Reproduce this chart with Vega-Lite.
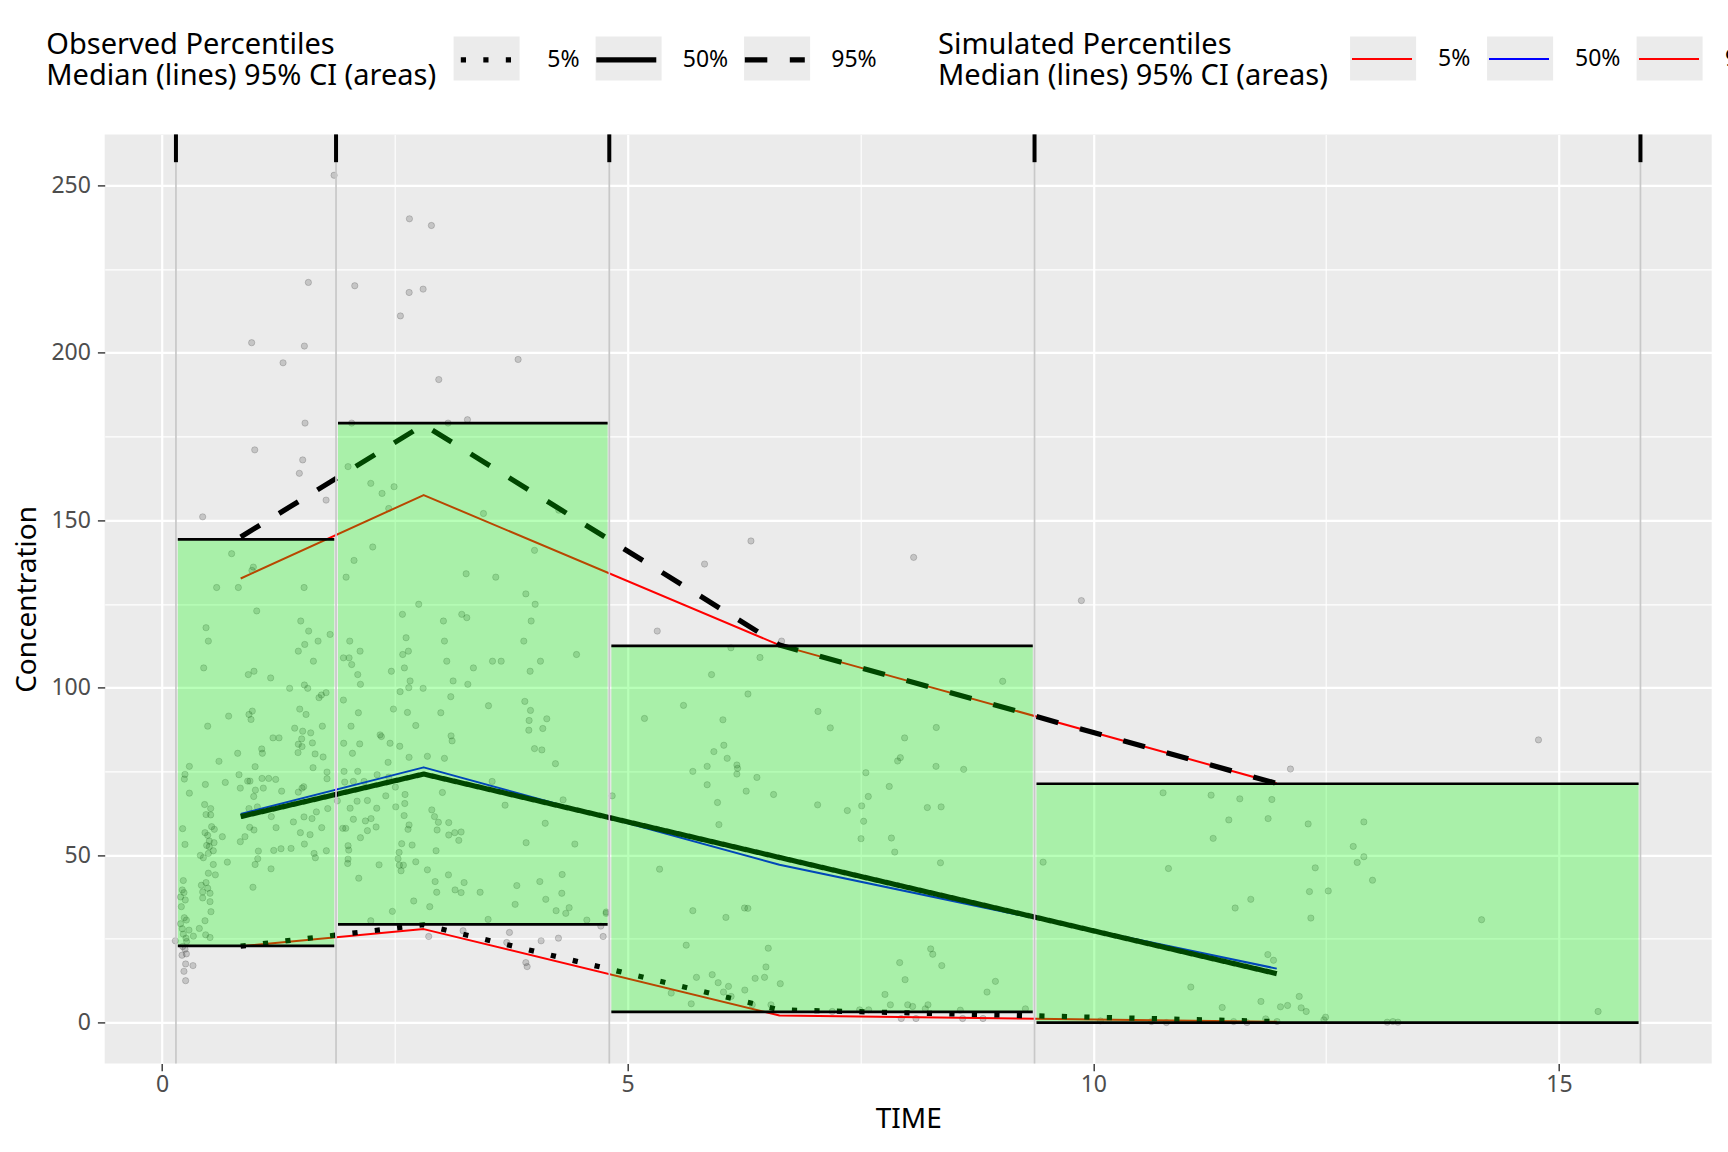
{
"$schema":"https://vega.github.io/schema/vega-lite/v6.json",
"width":1607,"height":929,
"autosize":{"type":"none"},
"padding":{"left":104.7,"top":134.4,"right":16.3,"bottom":88.6},
"background":"white",
"view":{"fill":"#EBEBEB","stroke":null},
"config":{"font":"Noto Sans","view":{"fill":"#EBEBEB","stroke":null}},
"datasets":{
"pts":[
{"t":1.848,"c":253},{"t":2.657,"c":240},{"t":2.893,"c":238},{"t":1.572,"c":221},{"t":2.07,"c":220},{"t":2.654,"c":218},{"t":2.804,"c":219},{"t":2.56,"c":211},{"t":0.963,"c":203},{"t":1.529,"c":202},{"t":1.3,"c":197},{"t":3.824,"c":198},{"t":2.972,"c":192},{"t":1.536,"c":179},{"t":2.037,"c":179},{"t":3.072,"c":179},{"t":3.28,"c":180},{"t":0.996,"c":171},{"t":1.511,"c":168},{"t":1.475,"c":164},{"t":1.998,"c":166},{"t":1.762,"c":156},{"t":2.242,"c":161},{"t":2.363,"c":158},{"t":2.492,"c":160},{"t":2.435,"c":153.5},{"t":3.452,"c":152},{"t":4.261,"c":153},{"t":0.437,"c":151},{"t":0.748,"c":140},{"t":0.981,"c":136},{"t":0.966,"c":135},{"t":2.263,"c":142},{"t":2.062,"c":138},{"t":4.0,"c":141},{"t":1.977,"c":133},{"t":3.266,"c":134},{"t":3.584,"c":133},{"t":0.587,"c":129.9},{"t":0.82,"c":129.9},{"t":1.526,"c":129.9},
{"t":1.017,"c":122.9},{"t":2.757,"c":124.9},{"t":3.907,"c":128},{"t":4.007,"c":124.9},{"t":2.582,"c":121.9},{"t":3.022,"c":119.9},{"t":3.219,"c":121.9},{"t":3.273,"c":120.9},{"t":3.964,"c":119.9},{"t":1.49,"c":119.9},{"t":0.473,"c":117.9},{"t":1.575,"c":116.9},{"t":0.498,"c":113.9},{"t":1.676,"c":113.9},{"t":1.805,"c":115.9},{"t":1.533,"c":112.9},{"t":1.464,"c":110.9},{"t":2.016,"c":113.9},{"t":2.621,"c":114.9},{"t":3.033,"c":113.9},{"t":3.885,"c":113.9},{"t":2.127,"c":110.9},{"t":2.646,"c":110.9},{"t":2.585,"c":109.9},{"t":4.451,"c":109.9},{"t":1.626,"c":107.9},{"t":1.948,"c":108.9},{"t":2.009,"c":108.9},{"t":2.037,"c":106.9},{"t":3.058,"c":107.9},{"t":3.549,"c":107.9},{"t":3.642,"c":107.9},{"t":4.064,"c":107.9},{"t":0.448,"c":105.9},{"t":2.603,"c":105.9},{"t":3.344,"c":105.9},{"t":2.463,"c":104.9},{"t":3.953,"c":104.9},{"t":0.927,"c":103.9},{"t":0.988,"c":104.9},{"t":1.167,"c":102.9},{"t":2.102,"c":103.9},{"t":2.664,"c":102},{"t":3.126,"c":102},{"t":2.131,"c":101},{"t":3.284,"c":101},{"t":1.371,"c":99.8},{"t":1.529,"c":100.8},{"t":1.565,"c":99.8},{"t":2.557,"c":98.8},{"t":2.65,"c":100},{"t":2.804,"c":99.8},{"t":3.101,"c":97.3},{"t":1.686,"c":97},{"t":1.762,"c":98.5},{"t":1.712,"c":97.8},{"t":1.948,"c":96.3},{"t":3.506,"c":94.6},{"t":3.896,"c":95.9},{"t":3.957,"c":93.2},{"t":0.97,"c":93},{"t":0.934,"c":92},{"t":1.479,"c":93.6},{"t":1.547,"c":92},{"t":2.109,"c":92.5},{"t":2.485,"c":93.6},{"t":2.636,"c":92.6},{"t":2.994,"c":92.5},{"t":4.132,"c":90.7},{"t":3.942,"c":90.2},{"t":0.956,"c":90.5},{"t":0.716,"c":91.5},{"t":0.491,"c":88.5},{"t":2.725,"c":88.7},{"t":1.425,"c":87.9},{"t":1.511,"c":87},{"t":1.597,"c":86.5},{"t":1.722,"c":88.5},{"t":3.939,"c":87.3},{"t":4.089,"c":87.8},{"t":2.03,"c":88.5},{"t":2.342,"c":85.9},{"t":2.356,"c":85.4},{"t":3.104,"c":85.6},{"t":3.115,"c":84.1},{"t":1.192,"c":85},{"t":1.257,"c":85},{"t":1.5,"c":84.7},{"t":1.464,"c":83.1},{"t":1.504,"c":82.4},{"t":1.461,"c":80.6},{"t":1.615,"c":83.5},{"t":1.951,"c":83.4},{"t":2.123,"c":83.2},{"t":2.449,"c":83.4},{"t":2.553,"c":82.5},{"t":4.0,"c":81.8},{"t":4.079,"c":81.4},{"t":1.071,"c":81.7},{"t":1.078,"c":80.4},{"t":0.813,"c":80.4},{"t":1.644,"c":80.2},{"t":1.73,"c":79.3},{"t":2.045,"c":80.4},{"t":2.653,"c":79.2},{"t":2.85,"c":79.5},{"t":3.033,"c":78.9},{"t":0.612,"c":78},{"t":0.294,"c":76.5},{"t":1.0,"c":76.4},{"t":1.622,"c":76.1},{"t":4.225,"c":77.3},{"t":2.428,"c":77.7},{"t":1.772,"c":74.8},{"t":1.955,"c":75},{"t":2.102,"c":75},{"t":0.247,"c":74.1},{"t":0.24,"c":72.7},{"t":0.827,"c":74},{"t":0.92,"c":72.1},{"t":0.945,"c":72.1},{"t":1.074,"c":72.9},{"t":1.146,"c":72.9},{"t":1.221,"c":72.6},{"t":1.772,"c":72.8},{"t":1.962,"c":71.8},{"t":2.055,"c":72},{"t":2.17,"c":72},{"t":2.31,"c":74},{"t":2.435,"c":73.3},{"t":3.545,"c":72},{"t":0.68,"c":71.7},{"t":0.466,"c":71.1},{"t":1.003,"c":69.4},{"t":1.088,"c":70},{"t":1.285,"c":69.1},{"t":1.464,"c":68.8},{"t":1.504,"c":70},{"t":1.522,"c":70.4},{"t":0.841,"c":70},{"t":0.985,"c":67.5},{"t":0.294,"c":68.5},{"t":2.506,"c":70.3},{"t":2.61,"c":68.1},{"t":2.403,"c":67.7},{"t":3.011,"c":68.7},{"t":4.307,"c":66.5},{"t":4.834,"c":67.7},{"t":2.095,"c":66.1},{"t":2.206,"c":66.3},{"t":2.607,"c":65.4},{"t":1.883,"c":66.2},{"t":1.024,"c":64.4},{"t":0.934,"c":63.9},{"t":0.458,"c":65.1},{"t":0.523,"c":63.9},{"t":0.523,"c":62},{"t":0.473,"c":62.1},{"t":1.174,"c":61.5},{"t":1.525,"c":61.4},{"t":1.611,"c":60.9},{"t":1.658,"c":62.9},{"t":1.78,"c":63.9},{"t":2.02,"c":64},{"t":2.306,"c":64},{"t":2.51,"c":64.4},{"t":2.897,"c":63.5},{"t":2.926,"c":61.5},{"t":3.684,"c":64.9},{"t":2.055,"c":60.7},{"t":2.184,"c":60.2},{"t":2.245,"c":60.9},{"t":2.6,"c":61.8},{"t":2.968,"c":59.8},{"t":3.079,"c":59.7},{"t":1.411,"c":59.9},{"t":0.942,"c":58.3},{"t":0.988,"c":57.5},{"t":1.225,"c":58.2},{"t":1.715,"c":58.2},{"t":4.115,"c":59.5},{"t":0.222,"c":57.9},{"t":0.533,"c":58.5},{"t":0.562,"c":57.7},{"t":2.653,"c":59},{"t":2.642,"c":57.7},{"t":2.954,"c":57.5},{"t":1.941,"c":58},{"t":1.973,"c":58},{"t":2.299,"c":58.4},{"t":2.206,"c":57.3},{"t":0.462,"c":56.7},{"t":0.491,"c":55.9},{"t":0.648,"c":55.5},{"t":0.841,"c":54},{"t":0.891,"c":55.5},{"t":1.486,"c":56.7},{"t":1.59,"c":56.1},{"t":2.131,"c":55.2},{"t":3.079,"c":56},{"t":3.144,"c":56.7},{"t":3.212,"c":56.9},{"t":3.187,"c":54.4},{"t":3.91,"c":53.7},{"t":4.433,"c":53.3},{"t":0.508,"c":54.2},{"t":0.559,"c":53.7},{"t":0.48,"c":52.9},{"t":0.508,"c":52.5},{"t":0.247,"c":53.2},{"t":0.551,"c":51.3},{"t":1.529,"c":53.3},{"t":2.574,"c":53.4},{"t":2.686,"c":53},{"t":1.998,"c":52.8},{"t":1.035,"c":51.2},{"t":1.2,"c":51.4},{"t":1.278,"c":51.9},{"t":1.386,"c":52},{"t":1.765,"c":51.3},{"t":2.005,"c":51.5},{"t":2.546,"c":50.8},{"t":2.943,"c":51.3},{"t":0.412,"c":49.9},{"t":0.444,"c":49.2},{"t":0.498,"c":50.5},{"t":1.633,"c":50.5},{"t":1.647,"c":49.2},{"t":1.028,"c":48.9},{"t":2.535,"c":48.9},{"t":1.998,"c":48.8},{"t":1.994,"c":47.5},{"t":0.551,"c":47.2},{"t":0.702,"c":47.9},{"t":1.0,"c":47.2},{"t":2.549,"c":47},{"t":2.592,"c":47},{"t":2.725,"c":48},{"t":2.331,"c":47.1},{"t":1.171,"c":45.9},{"t":2.567,"c":45.3},{"t":2.85,"c":45.6},{"t":0.498,"c":44.6},{"t":0.573,"c":44.1},{"t":3.076,"c":44.1},{"t":4.297,"c":44.2},{"t":0.229,"c":42.4},{"t":2.113,"c":43.1},{"t":2.933,"c":42.1},{"t":3.244,"c":41.8},{"t":4.057,"c":42.1},{"t":0.423,"c":41},{"t":0.473,"c":41.8},{"t":0.491,"c":40.1},{"t":0.977,"c":40.4},{"t":3.147,"c":39.6},{"t":3.212,"c":38.8},{"t":2.95,"c":38.9},{"t":3.416,"c":38.9},{"t":3.81,"c":40.9},{"t":4.293,"c":38.6},{"t":0.218,"c":39.6},{"t":0.236,"c":38.8},{"t":0.437,"c":39},{"t":0.516,"c":38.6},{"t":0.2,"c":37.5},{"t":0.25,"c":36.6},{"t":0.516,"c":36.1},{"t":0.437,"c":37.2},{"t":4.121,"c":36.8},{"t":2.703,"c":36.3},{"t":2.875,"c":34.6},{"t":3.792,"c":35.3},{"t":0.526,"c":33.1},{"t":0.208,"c":34.6},{"t":2.474,"c":33.2},{"t":4.232,"c":33.4},{"t":4.336,"c":32.6},{"t":4.372,"c":34.3},{"t":4.769,"c":32.6},{"t":0.24,"c":31.3},{"t":0.462,"c":30.4},{"t":0.262,"c":30.6},{"t":0.401,"c":28.1},{"t":0.2,"c":29.5},{"t":0.218,"c":28},{"t":0.29,"c":27.6},{"t":0.229,"c":26.4},{"t":0.337,"c":25.8},{"t":0.258,"c":25.2},{"t":0.469,"c":26.2},{"t":0.516,"c":25.4},{"t":0.143,"c":24.4},{"t":2.242,"c":30.4},{"t":3.502,"c":30.8},{"t":4.562,"c":30.6},{"t":4.712,"c":28.8},{"t":0.222,"c":22.7},{"t":0.247,"c":21.9},{"t":0.265,"c":24.2},{"t":0.215,"c":20.1},{"t":0.262,"c":20.5},{"t":0.333,"c":17},{"t":0.254,"c":17.5},{"t":0.236,"c":15.3},{"t":0.254,"c":12.5},{"t":2.864,"c":25.7},{"t":3.233,"c":27.4},{"t":3.731,"c":26.9},{"t":3.702,"c":23.9},{"t":4.071,"c":24.4},{"t":4.257,"c":25.2},{"t":4.737,"c":25.7},{"t":3.907,"c":17.9},{"t":3.921,"c":16.7},{"t":5.318,"c":116.9},{"t":5.181,"c":90.8},{"t":5.343,"c":45.8},{"t":4.77,"c":33},
{"t":6.324,"c":143.8},{"t":8.071,"c":138.9},{"t":5.826,"c":136.9},{"t":6.653,"c":113.9},{"t":6.109,"c":111.9},{"t":6.421,"c":109},{"t":9.872,"c":126},{"t":9.027,"c":101.9},{"t":5.901,"c":103.9},{"t":6.292,"c":98.1},{"t":5.6,"c":94.7},{"t":6.023,"c":90.4},{"t":7.044,"c":92.9},{"t":7.176,"c":88},{"t":8.314,"c":88.1},{"t":7.974,"c":85},{"t":6.033,"c":82.8},{"t":5.926,"c":80.9},{"t":6.069,"c":78.9},{"t":6.173,"c":76.9},{"t":6.18,"c":75.9},{"t":5.854,"c":76.5},{"t":5.7,"c":75},{"t":6.173,"c":74.2},{"t":6.388,"c":73.2},{"t":7.928,"c":79.1},{"t":7.899,"c":78.1},{"t":8.311,"c":76.5},{"t":8.608,"c":75.6},{"t":7.558,"c":74.6},{"t":5.854,"c":71},{"t":6.273,"c":69.1},{"t":6.567,"c":68.1},{"t":7.809,"c":70.5},{"t":7.584,"c":67.5},{"t":5.965,"c":65.7},{"t":7.04,"c":65},{"t":7.359,"c":63.3},{"t":7.513,"c":64.7},{"t":7.534,"c":60.1},{"t":8.218,"c":64.2},{"t":8.366,"c":64.4},{"t":5.98,"c":59.1},{"t":7.506,"c":54.9},{"t":7.832,"c":55.1},{"t":7.868,"c":50.9},{"t":8.359,"c":47.7},{"t":9.461,"c":47.9},{"t":5.7,"c":33.4},{"t":6.055,"c":31.4},{"t":6.255,"c":34.2},{"t":6.291,"c":34.1},{"t":5.629,"c":23.1},{"t":6.51,"c":22.2},{"t":6.485,"c":16.6},{"t":5.739,"c":13.5},{"t":5.908,"c":14.3},{"t":5.972,"c":11.9},{"t":6.083,"c":10.8},{"t":6.029,"c":9.1},{"t":6.111,"c":7.8},{"t":6.258,"c":9.7},{"t":6.369,"c":13.2},{"t":6.47,"c":13.5},{"t":6.639,"c":11.6},{"t":5.468,"c":8.8},{"t":5.683,"c":5.6},{"t":6.338,"c":5.3},{"t":6.539,"c":5.3},{"t":8.254,"c":22},{"t":8.276,"c":20.4},{"t":8.373,"c":17},{"t":7.921,"c":17.9},{"t":7.979,"c":12.8},{"t":8.949,"c":12.3},{"t":8.859,"c":9.1},{"t":7.763,"c":8.4},{"t":7.821,"c":5.3},{"t":8.007,"c":5.3},{"t":8.06,"c":4.8},{"t":8.225,"c":5.3},{"t":8.196,"c":4.1},{"t":7.491,"c":3.8},{"t":7.588,"c":3.8},{"t":9.271,"c":4.1},{"t":7.938,"c":1.2},{"t":8.096,"c":1.2},{"t":8.597,"c":1.2},{"t":8.816,"c":1.2},{"t":8.572,"c":3.7},{"t":7.197,"c":3.3},
{"t":12.117,"c":75.7},{"t":14.78,"c":84.4},{"t":10.749,"c":68.6},{"t":11.265,"c":67.9},{"t":11.573,"c":66.8},{"t":11.917,"c":66.6},{"t":11.455,"c":60.5},{"t":11.877,"c":60.9},{"t":12.307,"c":59.3},{"t":12.905,"c":59.9},{"t":11.287,"c":55},{"t":12.791,"c":52.6},{"t":12.834,"c":47.8},{"t":12.905,"c":49.5},{"t":12.998,"c":42.5},{"t":10.807,"c":46},{"t":12.383,"c":46.2},{"t":12.321,"c":39.1},{"t":12.523,"c":39.3},{"t":11.691,"c":36.8},{"t":11.523,"c":34.2},{"t":12.336,"c":31.2},{"t":14.169,"c":30.7},{"t":11.874,"c":20.3},{"t":11.935,"c":18.6},{"t":11.047,"c":10.6},{"t":11.384,"c":4.5},{"t":11.8,"c":6.3},{"t":12.01,"c":4.7},{"t":12.086,"c":5.1},{"t":12.211,"c":7.8},{"t":12.232,"c":4.4},{"t":12.286,"c":3.3},{"t":12.494,"c":1.6},{"t":12.476,"c":0.8},{"t":11.851,"c":1.1},{"t":11.973,"c":0.3},{"t":11.65,"c":0},{"t":11.507,"c":0.3},{"t":10.785,"c":0},{"t":10.624,"c":0.3},{"t":10.076,"c":0.5},{"t":13.156,"c":0.1},{"t":13.271,"c":0.1},{"t":13.217,"c":0.3},{"t":15.42,"c":3.3}
],
"obs":[
{"t":0.845,"v":22.8,"p":"o5"},{"t":2.81,"v":29.2,"p":"o5"},{"t":6.63,"v":3.8,"p":"o5"},{"t":11.97,"v":0.3,"p":"o5"},
{"t":0.845,"v":61.5,"p":"o50"},{"t":2.81,"v":74.2,"p":"o50"},{"t":6.63,"v":49.3,"p":"o50"},{"t":11.97,"v":14.6,"p":"o50"},
{"t":0.845,"v":145,"p":"o95"},{"t":2.81,"v":178.5,"p":"o95"},{"t":6.63,"v":112.7,"p":"o95"},{"t":11.97,"v":71.4,"p":"o95"}
],
"sim":[
{"t":0.845,"v":22.8,"s":"s5"},{"t":2.81,"v":27.9,"s":"s5"},{"t":6.63,"v":2.1,"s":"s5"},{"t":11.97,"v":0.2,"s":"s5"},
{"t":0.845,"v":62.3,"s":"s50"},{"t":2.81,"v":76.2,"s":"s50"},{"t":6.63,"v":47.1,"s":"s50"},{"t":11.97,"v":16.1,"s":"s50"},
{"t":0.845,"v":132.6,"s":"s95"},{"t":2.81,"v":157.5,"s":"s95"},{"t":6.63,"v":112.7,"s":"s95"},{"t":11.97,"v":71.4,"s":"s95"}
],
"bins":[
{"x1":0.17,"x2":1.85,"lo":22.9,"hi":144.3},
{"x1":1.89,"x2":4.785,"lo":29.3,"hi":179},
{"x1":4.825,"x2":9.35,"lo":3.2,"hi":112.5},
{"x1":9.39,"x2":15.855,"lo":0,"hi":71.3}
],
"edges":[{"x":0.15},{"x":1.869},{"x":4.803},{"x":9.369},{"x":15.875}],
"keys":[{"ob":"ob","sb":"sb"}]
},
"encoding":{
"x":{"type":"quantitative","scale":{"domain":[-0.615,16.64],"nice":false,"zero":false},
"axis":{"title":"TIME","values":[0,2.5,5,7.5,10,12.5,15],"labelExpr":"datum.value % 5 == 0 ? format(datum.value,'d') : ''","labelOverlap":false,"labelFlush":false,"domain":false,"gridColor":"white","gridWidth":{"condition":{"test":"datum.value % 5 == 0","value":2.2},"value":1.1},"tickOpacity":{"condition":{"test":"datum.value % 5 == 0","value":1},"value":0},"tickColor":"#333333","tickSize":7.3,"tickWidth":1.4,"labelColor":"#4D4D4D","labelFontSize":23,"labelPadding":3,"titleFontSize":28,"titleFontWeight":"normal","titleColor":"black","titleY":56,"titleBaseline":"middle"}},
"y":{"type":"quantitative","scale":{"domain":[-12.2,265.2],"nice":false,"zero":false},
"axis":{"title":"Concentration","values":[0,25,50,75,100,125,150,175,200,225,250],"labelExpr":"datum.value % 50 == 0 ? format(datum.value,'d') : ''","labelOverlap":false,"labelFlush":false,"domain":false,"gridColor":"white","gridWidth":{"condition":{"test":"datum.value % 50 == 0","value":2.2},"value":1.1},"tickOpacity":{"condition":{"test":"datum.value % 50 == 0","value":1},"value":0},"tickColor":"#333333","tickSize":7.3,"tickWidth":1.4,"labelColor":"#4D4D4D","labelFontSize":23,"labelPadding":7,"titleFontSize":28,"titleFontWeight":"normal","titleColor":"black","titleX":-77,"titleY":464.5,"titleAngle":-90,"titleBaseline":"middle","titleAlign":"center"}}
},
"layer":[
{"data":{"name":"pts"},"mark":{"type":"circle","size":40,"fill":"black","fillOpacity":0.16,"stroke":"black","strokeOpacity":0.16,"strokeWidth":1},
 "encoding":{"x":{"field":"t","type":"quantitative"},"y":{"field":"c","type":"quantitative"}}},
{"data":{"name":"sim"},"mark":{"type":"line","strokeWidth":2,"strokeJoin":"round","strokeCap":"butt"},
 "encoding":{"x":{"field":"t","type":"quantitative"},"y":{"field":"v","type":"quantitative"},
 "color":{"field":"s","type":"nominal","scale":{"domain":["s5","s50","s95"],"range":["#FF0000","#0000FF","#FF0000"]},
 "legend":{"title":["Simulated Percentiles","Median (lines) 95% CI (areas)"],"labelExpr":"slice(datum.label,1) + '%'","orient":"none","legendX":833.3,"legendY":-98.3,"direction":"horizontal","titleOrient":"left","titleBaseline":"top","titleFontSize":29,"titleFontWeight":"normal","titleColor":"black","titleLineHeight":31,"titlePadding":21,"titleLimit":1000,"labelFontSize":23,"labelColor":"black","labelOffset":33,"columnPadding":13,"symbolType":"M-1.364,0H1.364","symbolSize":1936,"symbolOffset":10,"symbolStrokeWidth":2,"symbolFillColor":"transparent","zindex":1,
 "encode":{"title":{"update":{"dy":{"value":-7.3}}}}}}}},
{"data":{"name":"obs"},"mark":{"type":"line","color":"black","strokeWidth":5.2,"strokeJoin":"round","strokeCap":"butt"},
 "encoding":{"x":{"field":"t","type":"quantitative"},"y":{"field":"v","type":"quantitative"},
 "strokeDash":{"field":"p","type":"nominal","scale":{"domain":["o5","o50","o95"],"range":[[5.2,17.3],[1,0],[22.5,22.5]]},
 "legend":{"title":["Observed Percentiles","Median (lines) 95% CI (areas)"],"labelExpr":"slice(datum.label,1) + '%'","orient":"none","legendX":-58.4,"legendY":-98.3,"direction":"horizontal","titleOrient":"left","titleBaseline":"top","titleFontSize":29,"titleFontWeight":"normal","titleColor":"black","titleLineHeight":31,"titlePadding":21,"titleLimit":1000,"labelFontSize":23,"labelColor":"black","labelOffset":33,"columnPadding":5.5,"symbolType":"M-1.47,0H1.47","symbolSize":1665,"symbolOffset":10,"symbolStrokeWidth":5.2,"symbolStrokeColor":"black","symbolFillColor":"transparent","zindex":1,
 "encode":{"title":{"update":{"dy":{"value":-7.3}}}}}}}},
{"data":{"name":"bins"},"mark":{"type":"rect","fill":"#00FF00","fillOpacity":0.28},
 "encoding":{"x":{"field":"x1","type":"quantitative"},"x2":{"field":"x2"},"y":{"field":"lo","type":"quantitative"},"y2":{"field":"hi"}}},
{"data":{"name":"bins"},"mark":{"type":"rule","color":"black","strokeWidth":2.7},
 "encoding":{"x":{"field":"x1","type":"quantitative"},"x2":{"field":"x2"},"y":{"field":"hi","type":"quantitative"}}},
{"data":{"name":"bins"},"mark":{"type":"rule","color":"black","strokeWidth":2.7},
 "encoding":{"x":{"field":"x1","type":"quantitative"},"x2":{"field":"x2"},"y":{"field":"lo","type":"quantitative"}}},
{"data":{"name":"edges"},"mark":{"type":"rule","color":"#C8C8C8","strokeWidth":1.7},
 "encoding":{"x":{"field":"x","type":"quantitative"}}},
{"data":{"name":"edges"},"mark":{"type":"rule","color":"black","strokeWidth":4},
 "encoding":{"x":{"field":"x","type":"quantitative"},"y":{"datum":265.2},"y2":{"datum":256.9}}},
{"data":{"name":"keys"},"mark":{"type":"point","filled":true,"color":"#EBEBEB","opacity":0},
 "encoding":{"shape":{"field":"ob","type":"nominal","scale":{"domain":["ob"],"range":["M-0.33,-0.22H0.33V0.22H-0.33Z M1.09,-0.22H1.75V0.22H1.09Z M2.575,-0.22H3.235V0.22H2.575Z"]},
 "legend":{"title":null,"labelExpr":"''","orient":"none","legendX":281.9,"legendY":-176,"direction":"horizontal","labelFontSize":1,"labelOffset":-100,"symbolSize":40000,"symbolOffset":0,"symbolStrokeWidth":0,"symbolStrokeColor":"transparent","symbolFillColor":"#EBEBEB","symbolOpacity":1,"zindex":0}}}},
{"data":{"name":"keys"},"mark":{"type":"point","filled":true,"color":"#EBEBEB","opacity":0},
 "encoding":{"fill":{"field":"sb","type":"nominal","scale":{"domain":["sb"],"range":["#EBEBEB"]},
 "legend":{"title":null,"labelExpr":"''","orient":"none","legendX":1178.4,"legendY":-176,"direction":"horizontal","labelFontSize":1,"labelOffset":-100,"symbolType":"M-0.33,-0.22H0.33V0.22H-0.33Z M1.04,-0.22H1.70V0.22H1.04Z M2.535,-0.22H3.195V0.22H2.535Z","symbolSize":40000,"symbolOffset":0,"symbolStrokeWidth":0,"symbolStrokeColor":"transparent","symbolOpacity":1,"zindex":0}}}}
]
}
